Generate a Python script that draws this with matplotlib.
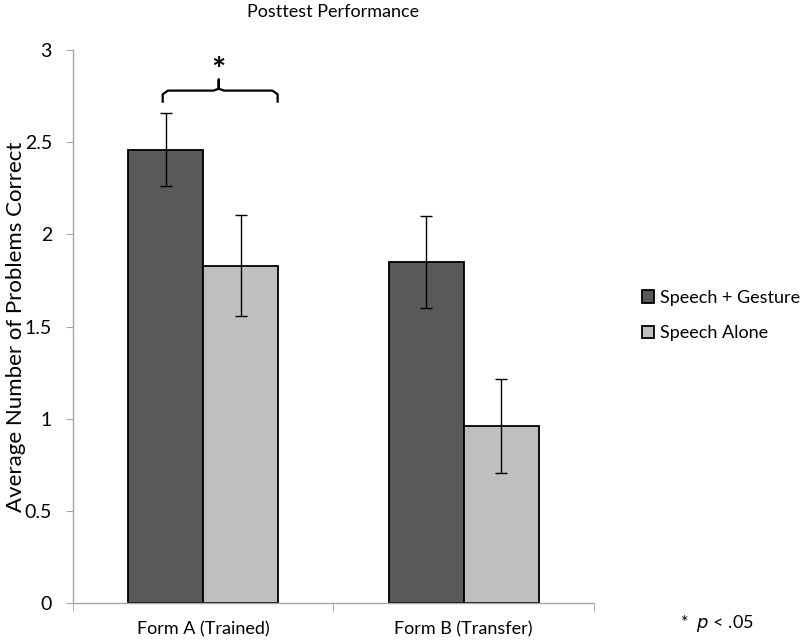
import matplotlib
matplotlib.use("Agg")
import matplotlib.pyplot as plt
import numpy as np

plt.rcParams['font.family'] = ['Lato', 'DejaVu Sans']

categories = ["Form A (Trained)", "Form B (Transfer)"]
series_names = ["Speech + Gesture", "Speech Alone"]
gesture_means = [2.46, 1.85]
gesture_err = [0.20, 0.25]
alone_means = [1.83, 0.96]
alone_err = [0.275, 0.255]
y_ticks = [0, 0.5, 1, 1.5, 2, 2.5, 3]
y_tick_labels = ["0", "0.5", "1", "1.5", "2", "2.5", "3"]

fig = plt.figure(figsize=(8, 6.4), dpi=100)
ax = fig.add_axes([0.091, 0.0578, 0.6515, 0.864])

x = np.arange(len(categories))
w = 0.288
err_kw = dict(ecolor='black', elinewidth=1.0, capsize=4, capthick=1.0)
ax.bar(x - w/2, gesture_means, w, yerr=gesture_err, color='#595959',
       edgecolor='black', linewidth=1.3, label=series_names[0], error_kw=err_kw)
ax.bar(x + w/2, alone_means, w, yerr=alone_err, color='#bfbfbf',
       edgecolor='black', linewidth=1.3, label=series_names[1], error_kw=err_kw)

ax.set_xlim(-0.5, 1.5)
ax.set_ylim(0, 3)
ax.set_yticks(y_ticks)
ax.set_yticklabels(y_tick_labels, fontsize=14)
ax.set_xticks(x)
ax.set_xticklabels(categories, fontsize=13)
ax.tick_params(axis='x', which='major', length=0, pad=13)
ax.set_xticks([-0.5, 0.5, 1.5], minor=True)
ax.tick_params(axis='x', which='minor', length=6, color='#a6a6a6', direction='out')
ax.tick_params(axis='y', length=5, color='#a6a6a6', pad=10)

for s in ['top', 'right']:
    ax.spines[s].set_visible(False)
for s in ['left', 'bottom']:
    ax.spines[s].set_color('#a6a6a6')
    ax.spines[s].set_linewidth(1.0)

ax.set_ylabel("Average Number of Problems Correct", fontsize=16)
ax.yaxis.set_label_coords(-0.09, 0.5)
ax.set_title("Posttest Performance", fontsize=13, pad=24)

# significance brace
bx0, bx1 = -0.155, 0.286
bmid = 0.06
yb, yt, ys = 2.72, 2.78, 2.84
r = 0.02
bx = [bx0, bx0, bx0 + r, bmid - r, bmid, bmid, bmid, bmid + r, bx1 - r, bx1, bx1]
by = [yb, yt - 0.02, yt, yt, yt + 0.01, ys, yt + 0.01, yt, yt, yt - 0.02, yb]
ax.plot(bx, by, color='black', lw=1.6, clip_on=False, solid_joinstyle='round')
ax.text(bmid, 2.885, "*", ha='center', va='center', fontsize=24, fontweight='bold')

leg = ax.legend(loc='center left', bbox_to_anchor=(1.06, 0.52), frameon=False,
                fontsize=13, handlelength=0.7, handleheight=0.7, handletextpad=0.3,
                labelspacing=1.1)

fig.text(0.85, 6/640, r"*  $\it{p}$ < .05", fontsize=13, ha='left', va='bottom')

fig.savefig("out.png", dpi=100)
